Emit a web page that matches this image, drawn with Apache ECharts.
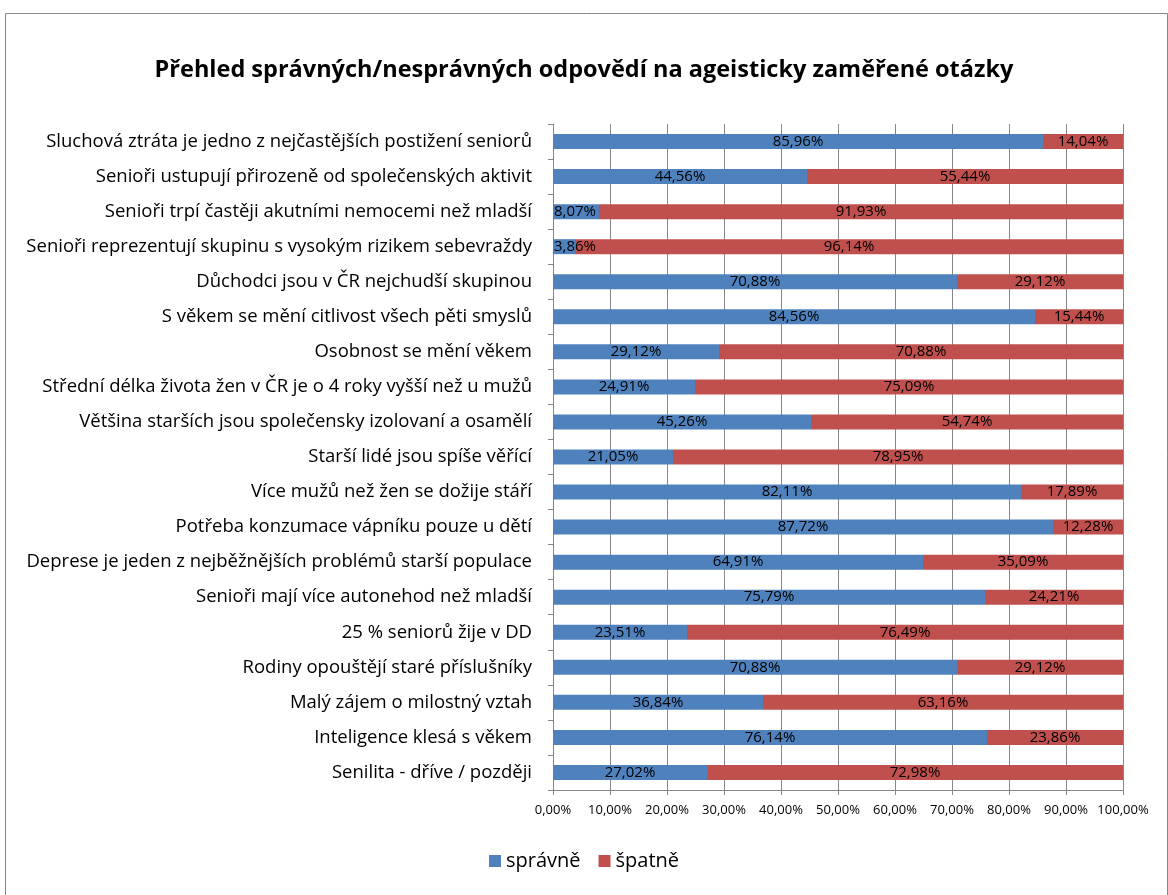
<!DOCTYPE html>
<html>
<head>
<meta charset="utf-8">
<script src="https://cdn.jsdelivr.net/npm/echarts@6/dist/echarts.min.js"></script>
<style>
  html, body { margin: 0; padding: 0; background: #fff; }
  #chart { width: 1168px; height: 895px; }
</style>
</head>
<body>
<div id="chart"></div>
<script>
// otázky, shora dolů
let questions = [
  'Sluchová ztráta je jedno z nejčastějších postižení seniorů',
  'Senioři ustupují přirozeně od společenských aktivit',
  'Senioři trpí častěji akutními nemocemi než mladší',
  'Senioři reprezentují skupinu s vysokým rizikem sebevraždy',
  'Důchodci jsou v ČR nejchudší skupinou',
  'S věkem se mění citlivost všech pěti smyslů',
  'Osobnost se mění věkem',
  'Střední délka života žen v ČR je o 4 roky vyšší než u mužů',
  'Většina starších jsou společensky izolovaní a osamělí',
  'Starší lidé jsou spíše věřící',
  'Více mužů než žen se dožije stáří',
  'Potřeba konzumace vápníku pouze u dětí',
  'Deprese je jeden z nejběžnějších problémů starší populace',
  'Senioři mají více autonehod než mladší',
  '25 % seniorů žije v DD',
  'Rodiny opouštějí staré příslušníky',
  'Malý zájem o milostný vztah',
  'Inteligence klesá s věkem',
  'Senilita - dříve / později'
];
let spravne = [85.96, 44.56, 8.07, 3.86, 70.88, 84.56, 29.12, 24.91, 45.26, 21.05,
  82.11, 87.72, 64.91, 75.79, 23.51, 70.88, 36.84, 76.14, 27.02];
let spatne = [14.04, 55.44, 91.93, 96.14, 29.12, 15.44, 70.88, 75.09, 54.74, 78.95,
  17.89, 12.28, 35.09, 24.21, 76.49, 29.12, 63.16, 23.86, 72.98];

function pct(v) {
  return v.toFixed(2).replace('.', ',') + '%';
}

// malé úseky: popisek se nevejde na střed, drží se levého okraje
function withLabels(values) {
  return values.map(v => v < 10
    ? {value: v, label: {position: 'insideLeft', distance: 1}}
    : v);
}

let chart = echarts.init(document.getElementById('chart'));
let font = 'Open Sans';
let gridColor = '#878787';

let labelStyle = {
  show: true,
  position: 'inside',
  color: '#000',
  fontFamily: font,
  fontSize: 15,
  formatter: p => pct(p.value)
};

let option = {
  backgroundColor: '#fff',
  animation: false,
  graphic: [{
    type: 'rect',
    left: 3, top: 11,
    shape: {width: 1162, height: 900},
    style: {fill: 'none', stroke: gridColor, lineWidth: 1},
    silent: true
  }],
  title: {
    text: 'Přehled správných/nesprávných odpovědí na ageisticky zaměřené otázky',
    left: 'center',
    top: 53,
    textStyle: {fontFamily: font, fontSize: 23.5, fontWeight: 'bold', color: '#000'}
  },
  legend: {
    bottom: 19,
    left: 'center',
    icon: 'rect',
    itemWidth: 12,
    itemHeight: 12,
    itemGap: 18,
    textStyle: {fontFamily: font, fontSize: 20, color: '#000'},
    data: ['správně', 'špatně']
  },
  grid: {left: 553, right: 45, top: 124, bottom: 105},
  xAxis: {
    type: 'value',
    min: 0, max: 100, interval: 10,
    axisLine: {show: true, lineStyle: {color: gridColor}},
    axisTick: {show: true, length: 5, lineStyle: {color: gridColor}},
    splitLine: {show: true, lineStyle: {color: gridColor}},
    axisLabel: {
      fontFamily: font, fontSize: 13, color: '#000', margin: 14,
      formatter: v => pct(v)
    }
  },
  yAxis: {
    type: 'category',
    inverse: true,
    data: questions,
    axisLine: {show: true, lineStyle: {color: gridColor}},
    axisTick: {show: true, length: 5, lineStyle: {color: gridColor}},
    axisLabel: {fontFamily: font, fontSize: 18.5, color: '#000', margin: 21}
  },
  series: [{
    name: 'správně',
    type: 'bar',
    stack: 'total',
    barWidth: 15,
    itemStyle: {color: '#4F81BD'},
    label: labelStyle,
    data: withLabels(spravne)
  }, {
    name: 'špatně',
    type: 'bar',
    stack: 'total',
    barWidth: 15,
    itemStyle: {color: '#C0504D'},
    label: labelStyle,
    data: spatne
  }]
};

chart.setOption(option);
</script>
</body>
</html>
